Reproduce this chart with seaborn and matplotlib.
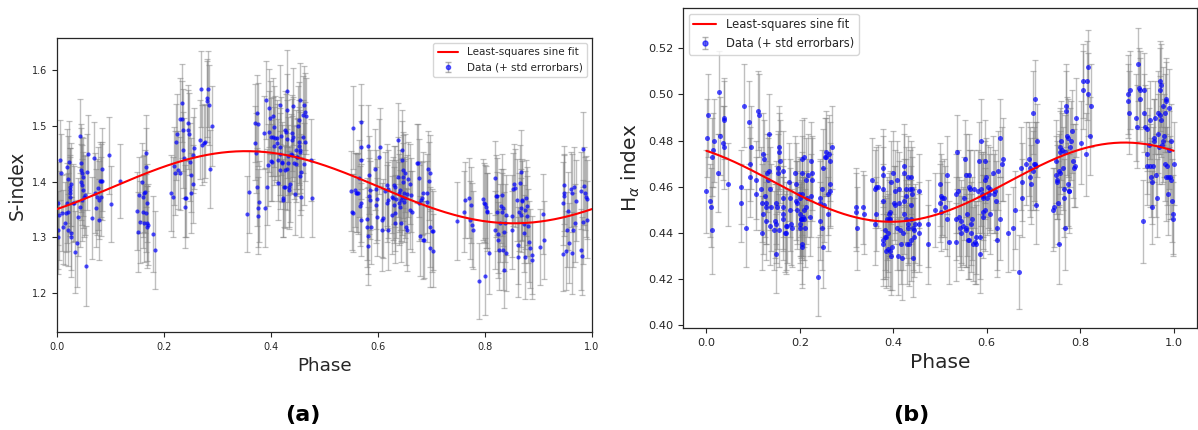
import numpy as np
import matplotlib
matplotlib.use("Agg")
import matplotlib.pyplot as plt
import seaborn as sns

# ---------------- Panel (a): S-index ----------------
phase_a = [
    0.001,0.002,0.002,0.006,0.007,0.004,0.009,0.012,0.015,0.016,
    0.018,0.018,0.021,0.021,0.021,0.023,0.024,0.024,0.024,0.024,
    0.026,0.026,0.027,0.029,0.032,0.034,0.037,0.040,0.043,0.043,
    0.044,0.044,0.045,0.046,0.047,0.046,0.049,0.049,0.050,0.052,
    0.055,0.057,0.058,0.065,0.070,0.071,0.073,0.075,0.077,0.079,
    0.079,0.080,0.082,0.083,0.085,0.085,0.097,0.100,0.117,0.150,
    0.151,0.154,0.156,0.158,0.160,0.161,0.163,0.163,0.165,0.166,
    0.166,0.168,0.168,0.169,0.170,0.166,0.180,0.183,0.214,0.217,
    0.219,0.221,0.222,0.225,0.227,0.229,0.230,0.233,0.234,0.235,
    0.236,0.237,0.239,0.240,0.241,0.244,0.245,0.247,0.249,0.250,
    0.251,0.254,0.255,0.256,0.267,0.269,0.271,0.274,0.277,
    0.280,0.281,0.283,0.284,0.286,0.289,0.356,0.358,0.371,0.371,
    0.372,0.373,0.374,0.375,0.375,0.376,0.378,0.387,0.388,0.391,
    0.393,0.394,0.396,0.396,0.398,0.400,0.400,0.402,0.403,0.404,
    0.406,0.406,0.408,0.411,0.412,0.414,0.414,0.416,0.416,0.417,
    0.417,0.419,0.420,0.421,0.422,0.423,0.424,0.426,0.426,0.427,
    0.428,0.429,0.429,0.430,0.430,0.431,0.432,0.433,0.434,0.436,
    0.437,0.439,0.439,0.439,0.441,0.442,0.443,0.444,0.446,0.447,
    0.448,0.449,0.451,0.452,0.452,0.453,0.454,0.454,0.454,0.455,
    0.457,0.457,0.459,0.460,0.462,0.462,0.464,0.464,0.465,0.474,
    0.476,0.550,0.551,0.553,0.554,0.557,0.559,0.560,0.562,0.565,
    0.566,0.568,0.568,0.569,0.569,0.569,0.579,0.580,0.582,0.582,
    0.582,0.583,0.584,0.585,0.585,0.586,0.595,0.596,0.596,0.598,
    0.599,0.601,0.604,0.607,0.607,0.610,0.613,0.616,0.616,0.618,
    0.619,0.619,0.626,0.627,0.628,0.629,0.630,0.632,0.632,0.632,
    0.634,0.637,0.637,0.639,0.639,0.641,0.641,0.643,0.643,0.644,
    0.645,0.645,0.646,0.646,0.647,0.649,0.649,0.651,0.651,0.652,
    0.654,0.655,0.657,0.659,0.660,0.661,0.663,0.672,0.674,0.676,
    0.677,0.679,0.680,0.682,0.684,0.685,0.686,0.691,0.692,0.694,
    0.696,0.697,0.698,0.698,0.700,0.702,0.703,0.748,0.761,0.762,
    0.771,0.772,0.773,0.775,0.778,0.789,0.797,0.798,0.800,0.800,
    0.802,0.803,0.804,0.808,0.819,0.819,0.821,0.822,0.823,0.825,
    0.825,0.827,0.828,0.829,0.831,0.831,0.833,0.834,0.835,0.835,
    0.837,0.839,0.840,0.850,0.851,0.853,0.854,0.856,0.859,0.861,
    0.862,0.864,0.865,0.867,0.868,0.868,0.869,0.870,0.872,0.873,
    0.874,0.875,0.876,0.878,0.879,0.881,0.883,0.885,0.887,0.888,
    0.903,0.909,0.910,0.945,0.946,0.947,0.947,0.948,0.951,0.954,
    0.956,0.957,0.960,0.962,0.963,0.964,0.967,0.969,0.971,0.979,
    0.980,0.981,0.983,0.984,0.985,0.987,0.989,0.990,0.991,
]
s_index = [
    1.361,1.314,1.300,1.439,1.415,1.340,1.344,1.319,1.325,1.343,
    1.361,1.427,1.404,1.346,1.313,1.436,1.391,1.385,1.379,1.373,
    1.307,1.300,1.395,1.361,1.361,1.274,1.289,1.337,1.482,1.355,
    1.433,1.421,1.400,1.394,1.415,1.367,1.409,1.385,1.373,1.376,
    1.249,1.417,1.449,1.335,1.442,1.379,1.353,1.373,1.388,1.367,
    1.332,1.402,1.373,1.402,1.422,1.402,1.447,1.360,1.401,1.348,
    1.309,1.376,1.328,1.400,1.346,1.373,1.325,1.379,1.382,1.451,
    1.426,1.361,1.319,1.325,1.323,1.344,1.306,1.278,1.380,1.373,
    1.428,1.416,1.471,1.486,1.421,1.415,1.512,1.512,1.541,1.493,
    1.457,1.443,1.370,1.355,1.370,1.493,1.505,1.486,1.436,1.412,
    1.379,1.396,1.448,1.460,1.475,1.566,1.466,1.469,1.472,
    1.550,1.544,1.566,1.538,1.423,1.500,1.342,1.381,1.506,1.469,
    1.452,1.391,1.524,1.503,1.353,1.339,1.364,1.488,1.353,1.547,
    1.391,1.430,1.532,1.490,1.515,1.481,1.438,1.435,1.481,1.518,
    1.499,1.464,1.478,1.478,1.469,1.439,1.397,1.538,1.421,1.463,
    1.450,1.482,1.434,1.436,1.370,1.367,1.391,1.493,1.421,1.391,
    1.490,1.422,1.476,1.528,1.562,1.446,1.433,1.391,1.385,1.395,
    1.450,1.448,1.475,1.488,1.480,1.535,1.434,1.377,1.432,1.457,
    1.445,1.445,1.500,1.472,1.464,1.510,1.547,1.457,1.453,1.410,
    1.417,1.373,1.520,1.481,1.432,1.538,1.472,1.526,1.518,1.439,
    1.371,1.383,1.346,1.344,1.497,1.385,1.380,1.379,1.379,1.406,
    1.356,1.362,1.508,1.462,1.439,1.332,1.333,1.318,1.285,1.303,
    1.464,1.412,1.374,1.385,1.367,1.319,1.422,1.386,1.358,1.337,
    1.368,1.445,1.462,1.313,1.331,1.334,1.384,1.394,1.361,1.386,
    1.367,1.313,1.340,1.373,1.370,1.394,1.358,1.391,1.325,1.344,
    1.368,1.409,1.474,1.380,1.361,1.355,1.385,1.325,1.367,1.373,
    1.457,1.439,1.421,1.409,1.399,1.379,1.364,1.370,1.415,1.319,
    1.313,1.378,1.404,1.396,1.349,1.376,1.346,1.433,1.434,1.407,
    1.362,1.303,1.367,1.370,1.380,1.295,1.296,1.364,1.379,1.423,
    1.402,1.319,1.415,1.280,1.312,1.276,1.312,1.330,1.346,1.367,
    1.370,1.331,1.358,1.322,1.314,1.222,1.368,1.362,1.360,1.230,
    1.355,1.346,1.348,1.271,1.313,1.407,1.374,1.346,1.374,1.306,
    1.295,1.278,1.326,1.356,1.376,1.346,1.353,1.278,1.310,1.241,
    1.325,1.340,1.271,1.314,1.338,1.386,1.396,1.388,1.367,1.286,
    1.264,1.346,1.397,1.418,1.352,1.340,1.367,1.366,1.324,1.307,
    1.264,1.349,1.370,1.338,1.356,1.320,1.292,1.280,1.259,1.268,
    1.282,1.342,1.296,1.270,1.361,1.394,1.380,1.375,1.276,1.314,
    1.348,1.290,1.386,1.379,1.272,1.313,1.391,1.326,1.366,1.384,
    1.278,1.266,1.458,1.328,1.392,1.379,1.373,1.368,1.332,
]
s_err = [
    0.075,0.070,0.065,0.072,0.070,0.080,0.068,0.066,0.074,0.070,
    0.072,0.068,0.078,0.070,0.064,0.073,0.070,0.076,0.069,0.071,
    0.066,0.072,0.075,0.070,0.068,0.074,0.078,0.070,0.066,0.072,
    0.070,0.075,0.068,0.072,0.066,0.074,0.070,0.069,0.073,0.071,
    0.072,0.068,0.070,0.074,0.066,0.072,0.070,0.068,0.075,0.070,
    0.073,0.069,0.071,0.066,0.074,0.070,0.070,0.068,0.066,0.070,
    0.072,0.068,0.074,0.070,0.066,0.073,0.070,0.069,0.075,0.068,
    0.071,0.070,0.074,0.068,0.072,0.070,0.069,0.070,0.068,0.072,
    0.070,0.075,0.068,0.072,0.070,0.066,0.074,0.069,0.070,0.073,
    0.068,0.072,0.070,0.075,0.069,0.071,0.068,0.074,0.070,0.066,
    0.072,0.070,0.068,0.073,0.071,0.068,0.072,0.070,0.066,
    0.070,0.073,0.068,0.072,0.070,0.071,0.068,0.074,0.070,0.066,
    0.072,0.070,0.068,0.075,0.070,0.069,0.073,0.066,0.071,0.070,
    0.068,0.074,0.070,0.072,0.066,0.070,0.073,0.069,0.071,0.068,
    0.072,0.070,0.075,0.068,0.070,0.073,0.066,0.071,0.070,0.069,
    0.074,0.070,0.068,0.072,0.070,0.066,0.073,0.069,0.071,0.075,
    0.068,0.072,0.070,0.066,0.074,0.070,0.069,0.073,0.070,0.068,
    0.071,0.070,0.074,0.068,0.072,0.070,0.066,0.073,0.069,0.071,
    0.070,0.068,0.072,0.075,0.070,0.069,0.066,0.071,0.073,0.070,
    0.068,0.072,0.070,0.066,0.074,0.069,0.071,0.070,0.068,0.073,
    0.070,0.072,0.068,0.070,0.074,0.066,0.071,0.070,0.073,0.069,
    0.072,0.070,0.068,0.075,0.070,0.066,0.073,0.071,0.070,0.069,
    0.074,0.070,0.068,0.072,0.070,0.066,0.073,0.071,0.069,0.070,
    0.072,0.068,0.070,0.074,0.066,0.071,0.070,0.073,0.069,0.070,
    0.068,0.072,0.070,0.066,0.074,0.070,0.069,0.073,0.071,0.068,
    0.070,0.072,0.068,0.070,0.074,0.066,0.071,0.070,0.073,0.069,
    0.072,0.070,0.068,0.075,0.070,0.066,0.073,0.071,0.070,0.069,
    0.074,0.070,0.068,0.072,0.070,0.066,0.073,0.071,0.069,0.070,
    0.068,0.072,0.070,0.066,0.074,0.070,0.069,0.073,0.071,0.068,
    0.070,0.072,0.068,0.070,0.074,0.066,0.071,0.070,0.073,0.069,
    0.072,0.070,0.068,0.075,0.070,0.068,0.073,0.071,0.070,0.069,
    0.074,0.070,0.068,0.072,0.070,0.066,0.073,0.071,0.069,0.070,
    0.068,0.072,0.070,0.066,0.074,0.070,0.069,0.073,0.071,0.068,
    0.070,0.072,0.068,0.070,0.074,0.066,0.071,0.070,0.073,0.069,
    0.072,0.070,0.068,0.075,0.070,0.066,0.073,0.071,0.070,0.069,
    0.074,0.070,0.068,0.072,0.070,0.066,0.073,0.071,0.069,0.070,
    0.068,0.072,0.070,0.066,0.074,0.070,0.069,0.073,0.071,0.068,
    0.070,0.072,0.068,0.070,0.074,0.066,0.071,0.070,0.073,0.069,
    0.072,0.070,0.068,0.075,0.070,0.066,0.073,0.071,0.070,
]

# ---------------- Panel (b): H-alpha index ----------------
phase_b = [
    0.000,0.002,0.004,0.007,0.009,0.011,0.013,0.014,0.016,0.025,
    0.027,0.029,0.036,0.037,0.037,0.038,0.046,0.075,0.075,0.080,
    0.084,0.091,0.093,0.094,0.096,0.106,0.106,0.116,0.111,0.113,
    0.118,0.120,0.121,0.121,0.123,0.125,0.127,0.128,0.128,0.130,
    0.132,0.133,0.134,0.136,0.137,0.139,0.144,0.146,0.148,0.148,
    0.150,0.151,0.153,0.153,0.155,0.155,0.155,0.157,0.164,0.164,
    0.165,0.165,0.165,0.168,0.170,0.171,0.173,0.177,0.180,0.180,
    0.182,0.184,0.189,0.191,0.191,0.193,0.194,0.198,0.200,0.200,
    0.200,0.201,0.203,0.203,0.204,0.205,0.205,0.205,0.205,0.205,
    0.207,0.208,0.209,0.210,0.211,0.213,0.214,0.216,0.218,0.221,
    0.223,0.223,0.225,0.225,0.239,0.243,0.243,0.244,0.247,0.248,
    0.250,0.250,0.251,0.254,0.255,0.257,0.260,0.261,0.262,0.264,
    0.265,0.265,0.268,0.321,0.321,0.322,0.335,0.337,0.355,0.360,
    0.360,0.362,0.364,0.367,0.377,0.378,0.378,0.379,0.378,0.379,
    0.382,0.382,0.384,0.385,0.387,0.389,0.389,0.390,0.391,0.392,
    0.394,0.394,0.396,0.396,0.398,0.399,0.401,0.403,0.403,0.407,
    0.409,0.410,0.412,0.412,0.414,0.417,0.419,0.421,0.422,0.424,
    0.424,0.424,0.427,0.427,0.428,0.429,0.431,0.432,0.432,0.434,
    0.435,0.437,0.437,0.439,0.439,0.441,0.441,0.442,0.442,0.444,
    0.445,0.447,0.455,0.456,0.456,0.474,0.474,0.489,0.499,0.501,
    0.502,0.503,0.505,0.508,0.510,0.514,0.515,0.519,0.534,0.534,
    0.535,0.536,0.539,0.541,0.542,0.544,0.546,0.549,0.551,0.553,
    0.555,0.555,0.556,0.558,0.560,0.562,0.562,0.563,0.565,0.567,
    0.567,0.569,0.571,0.572,0.574,0.576,0.578,0.581,0.583,0.585,
    0.586,0.588,0.588,0.590,0.592,0.592,0.593,0.593,0.596,0.596,
    0.597,0.599,0.601,0.602,0.605,0.606,0.608,0.613,0.615,0.617,
    0.619,0.621,0.621,0.624,0.628,0.629,0.632,0.635,0.646,0.656,
    0.660,0.668,0.674,0.675,0.675,0.685,0.690,0.692,0.693,0.695,
    0.698,0.699,0.701,0.703,0.703,0.705,0.706,0.707,0.742,0.745,
    0.749,0.749,0.750,0.751,0.753,0.754,0.754,0.756,0.757,0.757,
    0.760,0.762,0.763,0.765,0.765,0.767,0.768,0.769,0.770,0.772,
    0.774,0.774,0.776,0.777,0.779,0.781,0.783,0.785,0.786,0.788,
    0.792,0.802,0.805,0.807,0.812,0.815,0.817,0.817,0.820,0.824,
    0.902,0.903,0.904,0.906,0.919,0.922,0.924,0.926,0.927,0.929,
    0.934,0.936,0.937,0.938,0.942,0.943,0.944,0.947,0.949,0.950,
    0.952,0.954,0.954,0.956,0.957,0.959,0.961,0.963,0.964,0.966,
    0.967,0.969,0.970,0.970,0.971,0.973,0.974,0.976,0.977,0.978,
    0.979,0.981,0.981,0.983,0.984,0.984,0.985,0.988,0.989,0.990,
    0.991,0.993,0.994,0.995,0.996,0.999,0.999,1.000,
]
ha_index = [
    0.458,0.481,0.491,0.454,0.451,0.441,0.473,0.476,0.480,0.466,
    0.501,0.482,0.479,0.477,0.490,0.489,0.461,0.460,0.453,0.495,
    0.442,0.488,0.470,0.464,0.477,0.463,0.457,0.459,0.493,0.491,
    0.453,0.440,0.474,0.448,0.472,0.456,0.451,0.445,0.453,0.466,
    0.463,0.483,0.467,0.459,0.443,0.451,0.441,0.445,0.453,0.431,
    0.444,0.451,0.468,0.466,0.477,0.475,0.441,0.471,0.467,0.451,
    0.455,0.448,0.446,0.440,0.443,0.440,0.443,0.462,0.450,0.455,
    0.444,0.442,0.466,0.461,0.454,0.450,0.453,0.457,0.455,0.448,
    0.444,0.442,0.446,0.446,0.446,0.472,0.466,0.457,0.435,0.434,
    0.447,0.450,0.446,0.473,0.442,0.463,0.451,0.455,0.465,0.447,
    0.456,0.471,0.466,0.463,0.421,0.453,0.445,0.455,0.442,0.459,
    0.468,0.434,0.452,0.473,0.475,0.473,0.448,0.457,0.474,0.461,
    0.471,0.458,0.477,0.451,0.449,0.442,0.451,0.448,0.463,0.459,
    0.444,0.460,0.448,0.460,0.468,0.465,0.459,0.454,0.437,0.435,
    0.441,0.438,0.432,0.438,0.446,0.440,0.433,0.448,0.446,0.449,
    0.432,0.446,0.462,0.430,0.434,0.466,0.453,0.452,0.458,0.463,
    0.442,0.430,0.459,0.453,0.441,0.435,0.429,0.440,0.466,0.454,
    0.448,0.469,0.456,0.446,0.459,0.435,0.442,0.464,0.444,0.435,
    0.459,0.464,0.437,0.452,0.446,0.459,0.457,0.429,0.442,0.438,
    0.441,0.444,0.458,0.444,0.440,0.444,0.435,0.450,0.461,0.453,
    0.449,0.456,0.455,0.455,0.451,0.465,0.446,0.436,0.436,0.446,
    0.457,0.475,0.458,0.447,0.442,0.445,0.440,0.443,0.455,0.472,
    0.465,0.442,0.441,0.448,0.437,0.437,0.465,0.460,0.459,0.444,
    0.440,0.446,0.435,0.459,0.436,0.435,0.438,0.458,0.471,0.438,
    0.431,0.459,0.480,0.457,0.456,0.447,0.449,0.455,0.471,0.463,
    0.450,0.464,0.455,0.460,0.457,0.448,0.459,0.466,0.457,0.458,
    0.454,0.442,0.437,0.467,0.446,0.481,0.470,0.472,0.440,0.442,
    0.450,0.423,0.468,0.462,0.455,0.470,0.472,0.464,0.468,0.461,
    0.492,0.467,0.470,0.470,0.498,0.469,0.452,0.480,0.450,0.451,
    0.465,0.471,0.462,0.463,0.453,0.435,0.467,0.466,0.477,0.475,
    0.480,0.476,0.468,0.459,0.455,0.442,0.475,0.493,0.495,0.482,
    0.461,0.481,0.458,0.458,0.477,0.480,0.484,0.471,0.468,0.469,
    0.490,0.479,0.506,0.502,0.474,0.506,0.512,0.500,0.482,0.495,
    0.500,0.497,0.492,0.502,0.490,0.486,0.513,0.503,0.498,0.502,
    0.445,0.492,0.502,0.486,0.474,0.469,0.485,0.478,0.489,0.469,
    0.464,0.462,0.451,0.469,0.480,0.481,0.490,0.465,0.455,0.492,
    0.483,0.477,0.502,0.491,0.506,0.504,0.489,0.478,0.480,0.495,
    0.482,0.492,0.470,0.498,0.497,0.464,0.469,0.464,0.457,0.476,
    0.494,0.464,0.480,0.463,0.454,0.448,0.446,0.470,
]
ha_err = [
    0.018,0.017,0.018,0.016,0.017,0.019,0.017,0.016,0.018,0.017,
    0.018,0.017,0.016,0.018,0.017,0.017,0.018,0.016,0.017,0.018,
    0.017,0.018,0.016,0.017,0.018,0.017,0.016,0.018,0.017,0.018,
    0.017,0.016,0.018,0.017,0.017,0.018,0.016,0.017,0.018,0.017,
    0.018,0.017,0.016,0.018,0.017,0.019,0.017,0.016,0.018,0.017,
    0.017,0.018,0.016,0.017,0.018,0.017,0.016,0.018,0.017,0.018,
    0.017,0.016,0.018,0.017,0.019,0.018,0.016,0.017,0.018,0.017,
    0.018,0.017,0.016,0.018,0.017,0.017,0.018,0.016,0.017,0.018,
    0.017,0.018,0.016,0.017,0.018,0.017,0.016,0.018,0.017,0.018,
    0.017,0.016,0.018,0.017,0.017,0.018,0.016,0.017,0.018,0.017,
    0.018,0.017,0.016,0.018,0.017,0.019,0.017,0.016,0.018,0.017,
    0.017,0.018,0.016,0.017,0.018,0.017,0.016,0.018,0.017,0.018,
    0.017,0.016,0.018,0.017,0.017,0.018,0.016,0.017,0.018,0.017,
    0.018,0.017,0.016,0.018,0.017,0.017,0.018,0.016,0.017,0.018,
    0.017,0.018,0.016,0.017,0.018,0.017,0.016,0.018,0.017,0.018,
    0.017,0.016,0.018,0.017,0.019,0.018,0.016,0.017,0.018,0.017,
    0.018,0.017,0.016,0.018,0.017,0.017,0.018,0.016,0.017,0.018,
    0.017,0.018,0.016,0.017,0.018,0.017,0.016,0.018,0.017,0.018,
    0.017,0.016,0.018,0.017,0.017,0.018,0.016,0.017,0.018,0.017,
    0.018,0.017,0.016,0.018,0.017,0.019,0.017,0.016,0.018,0.017,
    0.017,0.018,0.016,0.017,0.018,0.017,0.016,0.018,0.017,0.018,
    0.017,0.016,0.018,0.017,0.017,0.018,0.016,0.017,0.018,0.017,
    0.018,0.017,0.016,0.018,0.017,0.017,0.018,0.016,0.017,0.018,
    0.017,0.018,0.016,0.017,0.018,0.017,0.016,0.018,0.017,0.018,
    0.017,0.016,0.018,0.017,0.019,0.018,0.016,0.017,0.018,0.017,
    0.018,0.017,0.016,0.018,0.017,0.017,0.018,0.016,0.017,0.018,
    0.017,0.018,0.016,0.017,0.018,0.017,0.016,0.018,0.017,0.018,
    0.017,0.016,0.018,0.017,0.017,0.018,0.016,0.017,0.018,0.017,
    0.018,0.017,0.016,0.018,0.017,0.019,0.017,0.016,0.018,0.017,
    0.017,0.018,0.016,0.017,0.018,0.017,0.016,0.018,0.017,0.018,
    0.017,0.016,0.018,0.017,0.017,0.018,0.016,0.017,0.018,0.017,
    0.018,0.017,0.016,0.018,0.017,0.017,0.018,0.016,0.017,0.018,
    0.017,0.018,0.016,0.017,0.018,0.017,0.016,0.018,0.017,0.018,
    0.017,0.016,0.018,0.017,0.019,0.018,0.016,0.017,0.018,0.017,
    0.018,0.017,0.016,0.018,0.017,0.017,0.018,0.016,0.017,0.018,
    0.017,0.018,0.016,0.017,0.018,0.017,0.016,0.018,0.017,0.018,
    0.017,0.016,0.018,0.017,0.017,0.018,0.016,0.017,0.018,0.017,
    0.018,0.017,0.016,0.018,0.017,0.019,0.017,0.016,0.018,0.017,
    0.017,0.018,0.016,0.017,0.018,0.017,0.016,0.018,
]

x_ticks = [0.0, 0.2, 0.4, 0.6, 0.8, 1.0]
yticks_a = [1.2, 1.3, 1.4, 1.5, 1.6]
yticks_b = [0.40, 0.42, 0.44, 0.46, 0.48, 0.50, 0.52]
fit_label = "Least-squares sine fit"
data_label = "Data (+ std errorbars)"

# ------------------------------------------------------------------
sns.set_theme(style="ticks", rc={
    "axes.edgecolor": "0.15", "axes.linewidth": 0.9,
    "xtick.major.size": 3.5, "ytick.major.size": 3.5,
    "xtick.major.width": 0.8, "ytick.major.width": 0.8,
    "axes.spines.top": True, "axes.spines.right": True,
})
plt.rcParams["font.family"] = ["DejaVu Sans"]


def lsq_sine(ph, val):
    ph = np.asarray(ph); val = np.asarray(val)
    A = np.column_stack([np.ones_like(ph), np.sin(2*np.pi*ph), np.cos(2*np.pi*ph)])
    coef, *_ = np.linalg.lstsq(A, val, rcond=None)
    grid = np.linspace(0, 1, 300)
    G = np.column_stack([np.ones_like(grid), np.sin(2*np.pi*grid), np.cos(2*np.pi*grid)])
    return grid, G @ coef


def panel(ax, ph, val, err, msize, tick_fs, label_fs, leg_fs, leg_loc):
    assert len(ph) == len(val) == len(err), (len(ph), len(val), len(err))
    ax.errorbar(ph, val, yerr=err, fmt="none", ecolor="gray", elinewidth=1.0,
                capsize=2, capthick=0.9, alpha=0.5, zorder=1)
    sns.scatterplot(x=ph, y=val, ax=ax, color="blue", alpha=0.7, s=msize**2,
                    linewidth=0, zorder=2, legend=False)
    grid, fit = lsq_sine(ph, val)
    sns.lineplot(x=grid, y=fit, ax=ax, color="red", linewidth=1.5, zorder=3,
                 legend=False, sort=False)
    line_h = plt.Line2D([], [], color="red", linewidth=1.5)
    eb_h = ax.errorbar([np.nan], [np.nan], yerr=[0.01], fmt="o", color="blue",
                       markersize=msize, ecolor="gray", elinewidth=1.0, capsize=2,
                       alpha=0.6)
    ax.legend([line_h, eb_h], [fit_label, data_label], loc=leg_loc,
              fontsize=leg_fs, frameon=True, fancybox=True, framealpha=0.8,
              edgecolor="0.8")
    ax.set_xticks(x_ticks)
    ax.tick_params(labelsize=tick_fs, colors="0.15")
    ax.set_xlabel("Phase", fontsize=label_fs)


fig = plt.figure(figsize=(11.98, 4.30), dpi=100)
W, H = 1198, 430
ax1 = fig.add_axes([57/W, (H-332)/H, 535/W, 294/H])
ax2 = fig.add_axes([683/W, (H-328)/H, 514/W, 320/H])

panel(ax1, phase_a, s_index, s_err, 3.0, 7, 13.2, 7.5, "upper right")
ax1.set_xlim(0, 1)
ax1.set_ylim(1.130, 1.658)
ax1.set_yticks(yticks_a)
ax1.set_yticklabels([f"{v:.1f}" for v in yticks_a])
ax1.set_xticklabels([f"{v:.1f}" for v in x_ticks])
ax1.set_ylabel("S-index", fontsize=13.4)

panel(ax2, phase_b, ha_index, ha_err, 3.6, 8.2, 14.5, 8.3, "upper left")
ax2.set_xlim(-0.05, 1.05)
ax2.set_ylim(0.3987, 0.5375)
ax2.set_yticks(yticks_b)
ax2.set_yticklabels([f"{v:.2f}" for v in yticks_b])
ax2.set_xticklabels([f"{v:.1f}" for v in x_ticks])
ax2.set_ylabel(r"H$_\alpha$ index", fontsize=14.5)

fig.text(302.5/W, 1 - 415/H, "(a)", ha="center", va="center",
         fontsize=16, fontweight="bold", color="black")
fig.text(911/W, 1 - 415/H, "(b)", ha="center", va="center",
         fontsize=16, fontweight="bold", color="black")

fig.savefig("out.png", dpi=100)
